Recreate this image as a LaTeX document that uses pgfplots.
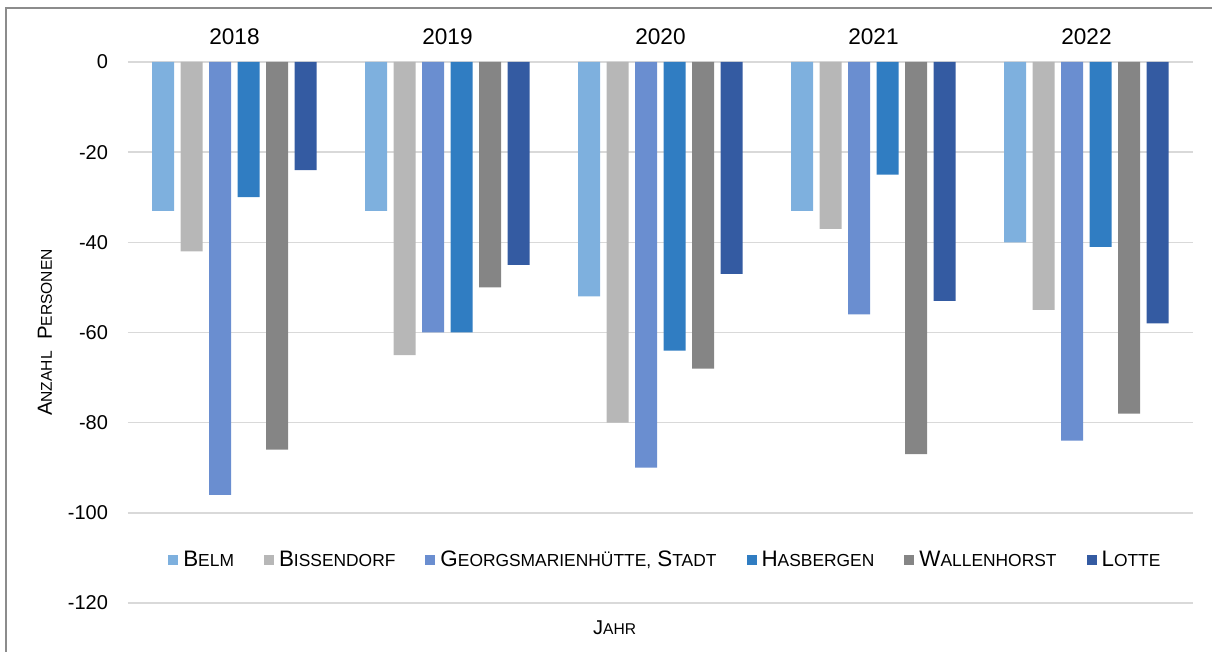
\documentclass[border=0pt]{standalone}
\usepackage{fontspec}
\setmainfont{Liberation Sans}
\usepackage{pgfplots}
\pgfplotsset{compat=1.18}
\definecolor{cBelm}{HTML}{7EB0DE}
\definecolor{cBiss}{HTML}{B7B7B7}
\definecolor{cGMH}{HTML}{6A8ED0}
\definecolor{cHas}{HTML}{307DC2}
\definecolor{cWal}{HTML}{858585}
\definecolor{cLot}{HTML}{345BA2}
\definecolor{gridc}{HTML}{D9D9D9}
\definecolor{framec}{HTML}{8C8C8C}
\newcommand{\SC}[2]{#1{\fontsize{7.8}{9}\selectfont #2}}
\newcommand{\LSC}[2]{#1{\fontsize{8.7}{10}\selectfont #2}}
\begin{document}
\begin{tikzpicture}
\path[use as bounding box] (0,0) rectangle (606pt,326pt);
\draw[framec, line width=0.8pt] (3pt,-2pt) -- (3pt,322pt) -- (610pt,322pt);
\begin{axis}[
  at={(64pt,24.5pt)}, anchor=south west,
  scale only axis, width=532.5pt, height=270.5pt,
  xmin=-0.5, xmax=4.5, ymin=-120, ymax=0,
  ybar=3.25pt, bar width=11pt,
  axis line style={draw=none},
  major tick length=0pt,
  xtick={0,1,2,3,4},
  xticklabels={2018,2019,2020,2021,2022},
  xticklabel pos=upper,
  xticklabel style={font=\fontsize{11.3}{13}\selectfont, yshift=5pt},
  ytick={-120,-100,-80,-60,-40,-20,0},
  yticklabel style={font=\fontsize{10}{12}\selectfont, xshift=-6.5pt},
  /pgf/number format/assume math mode=true,
  ymajorgrids, grid style={gridc, line width=0.75pt},
  xlabel={\fontsize{10}{12}\selectfont\SC{J}{AHR}},
  xlabel style={at={(axis description cs:0.457,-0.045)}, anchor=center},
  ylabel={\fontsize{10.2}{12}\selectfont\SC{A}{NZAHL}\ \ \SC{P}{ERSONEN}},
  ylabel style={at={(axis description cs:-0.078,0.5)}, anchor=center},
  legend columns=6,
  legend style={draw=none, fill=none, at={(axis description cs:0.506,0.0795)}, anchor=center,
    font=\fontsize{11.2}{13}\selectfont,
    nodes={inner xsep=2.5pt, inner ysep=1pt},
    /tikz/every even column/.append style={column sep=12.5pt}},
  legend image code/.code={\fill[#1] (0pt,-2.5pt) rectangle (5pt,2.5pt);},
]
\addplot[fill=cBelm, draw=none] coordinates {(0,-33) (1,-33) (2,-52) (3,-33) (4,-40)};
\addplot[fill=cBiss, draw=none] coordinates {(0,-42) (1,-65) (2,-80) (3,-37) (4,-55)};
\addplot[fill=cGMH, draw=none] coordinates {(0,-96) (1,-60) (2,-90) (3,-56) (4,-84)};
\addplot[fill=cHas, draw=none] coordinates {(0,-30) (1,-60) (2,-64) (3,-25) (4,-41)};
\addplot[fill=cWal, draw=none] coordinates {(0,-86) (1,-50) (2,-68) (3,-87) (4,-78)};
\addplot[fill=cLot, draw=none] coordinates {(0,-24) (1,-45) (2,-47) (3,-53) (4,-58)};
\legend{\LSC{B}{ELM}, \LSC{B}{ISSENDORF}, \LSC{G}{EORGSMARIENHÜTTE,}\ \LSC{S}{TADT}, \LSC{H}{ASBERGEN}, \LSC{W}{ALLENHORST}, \LSC{L}{OTTE}}
\end{axis}
\end{tikzpicture}
\end{document}
